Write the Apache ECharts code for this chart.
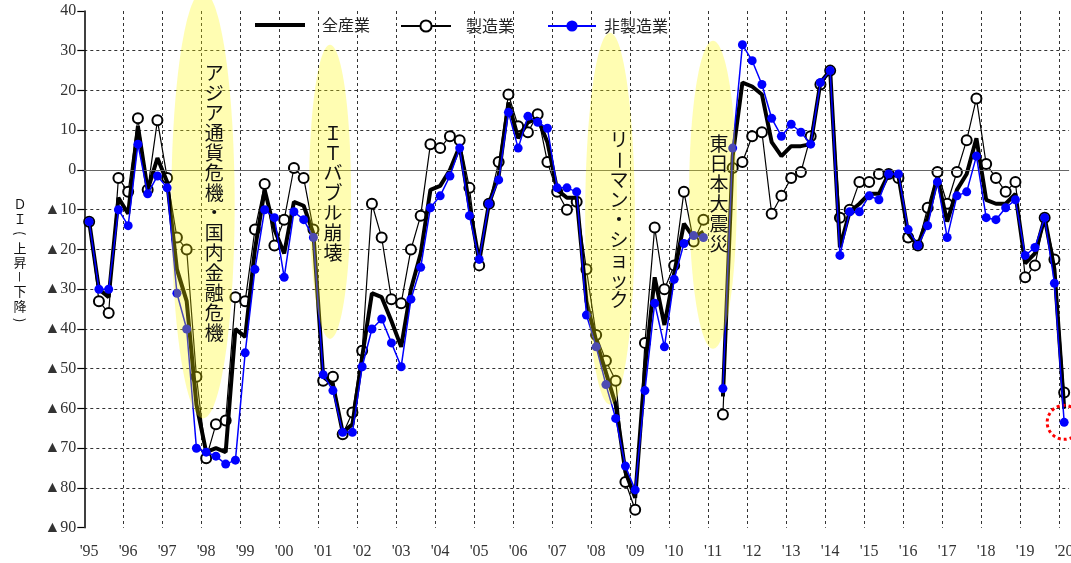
<!DOCTYPE html>
<html>
<head>
<meta charset="utf-8">
<script src="https://cdn.jsdelivr.net/npm/echarts@6/dist/echarts.min.js"></script>
<style>
html, body { margin: 0; padding: 0; background: #fff; }
#chart { width: 1071px; height: 563px; }
</style>
</head>
<body>
<div id="chart"></div>
<script>
// 年ラベル（四半期ごとにカテゴリを作る）
var yearLabels = ["'95", "'96", "'97", "'98", "'99", "'00", "'01", "'02", "'03", "'04",
  "'05", "'06", "'07", "'08", "'09", "'10", "'11", "'12", "'13", "'14",
  "'15", "'16", "'17", "'18", "'19", "'20"];
var quarterCount = 101;

// 全産業
var zenSangyo = [
  -13, -30, -32, -7,   -11, 11, -5, 3,    -3, -25, -33, -59,   -71, -70, -71, -40,
  -42, -20, -5, -15,   -21, -8, -9, -16,   -52, -54, -66, -64,  -47, -31, -32, -38,
  -44.5, -30, -21, -5, -4, 0, 6, -9,      -23, -8.5, -1.5, 17,  8, 12, 13, 7,
  -5, -7, -7, -33,     -43, -51, -59, -76,  -82.5, -50, -27, -39, -26, -13.5, -17, -15.5,
  null, -57, 3.5, 22,  21, 19, 7, 3.5,     6, 6, 6.5, 22,       25, -19.5, -10.5, -8.5,
  -6, -6, -1, -1.5,    -16, -19, -12, -2,   -13, -5, -1, 8,      -7.5, -8.5, -8.5, -6,
  -23.5, -21, -12, -25, -60
];
// 製造業
var seizo = [
  -13, -33, -36, -2,   -5.5, 13, -5, 12.5,  -2, -17, -20, -52,   -72.5, -64, -63, -32,
  -33, -15, -3.5, -19, -12.5, 0.5, -2, -15, -53, -52, -66.5, -61, -45.5, -8.5, -17, -32.5,
  -33.5, -20, -11.5, 6.5, 5.5, 8.5, 7.5, -4.5, -24, -8.5, 2, 19,  11, 9.5, 14, 2,
  -5.5, -10, -8, -25,  -41.5, -48, -53, -78.5, -85.5, -43.5, -14.5, -30, -24, -5.5, -18, -12.5,
  null, -61.5, 0.5, 2, 8.5, 9.5, -11, -6.5,  -2, -0.5, 8.5, 21.5,  25, -12, -10, -3,
  -3, -1, -1, -2,      -17, -19, -9.5, -0.5, -8.5, -0.5, 7.5, 18,  1.5, -2, -5.5, -3,
  -27, -24, -12, -22.5, -56
];
// 非製造業
var hiSeizo = [
  -13, -30, -30, -10,  -14, 6.5, -6, -1.5,  -4.5, -31, -40, -70,  -71, -72, -74, -73,
  -46, -25, -10, -12,  -27, -10.5, -12.5, -17, -51.5, -55.5, -66, -66, -49.5, -40, -37.5, -43.5,
  -49.5, -32.5, -24.5, -9.5, -6.5, -1.5, 5.5, -11.5, -22.5, -8.5, -2.5, 14.5, 5.5, 13.5, 12, 10.5,
  -4.5, -4.5, -5.5, -36.5, -44.5, -54, -62.5, -74.5, -80.5, -55.5, -33.5, -44.5, -27.5, -18.5, -16.5, -17,
  null, -55, 5.5, 31.5, 27.5, 21.5, 13, 8.5, 11.5, 9.5, 6.5, 22,  25, -21.5, -10.5, -10.5,
  -6.5, -7.5, -1, -1,  -15, -19, -14, -3,   -17, -6.5, -5.5, 3.5, -12, -12.5, -9.5, -7.5,
  -21.5, -19.5, -12, -28.5, -63.5
];

// 注記（楕円）: 中心の四半期位置、半幅（四半期）、上端・下端（DI値）
var eventNames = ['アジア通貨危機・国内金融危機', 'ＩＴバブル崩壊', 'リーマン・ショック', '東日本大震災'];
var eventCenter = [11.67, 24.7, 53.42, 63.98];
var eventHalfWidth = [3.25, 2.15, 2.55, 2.45];
var eventTop = [45, 31.5, 34.5, 32.5];
var eventBottom = [-62.5, -42.5, -59, -45];
var eventTextIdx = [12.82, 25.0, 54.35, 64.6];
var eventTextTop = [27, 12, 10, 9];

var quarters = [];
for (var n = 0; n < quarterCount; n++) {
  quarters.push(yearLabels[Math.floor(n / 4)] + '-' + (n % 4 + 1));
}

var serif = '"Liberation Serif", "DejaVu Serif", serif';
var gothic = '"Noto Sans CJK JP", sans-serif';
var dash = { color: '#333', width: 1, type: [3, 3] };
var legendText = { fontSize: 16, fontFamily: gothic, color: '#222' };

var myChart = echarts.init(document.getElementById('chart'));

var option = {
  animation: false,
  backgroundColor: '#fff',
  grid: { left: 84.3, top: 11, right: 1.95, bottom: 35.3, outerBoundsMode: 'none', containLabel: false },
  legend: [
    { data: [{ name: '全産業', icon: 'rect' }], left: 255, top: 17, padding: 0,
      itemWidth: 50, itemHeight: 4, itemStyle: { color: '#000' },
      textStyle: Object.assign({ padding: [0, 0, 0, 12] }, legendText) },
    { data: ['製造業'], left: 400, top: 18, padding: 0, itemWidth: 50, itemHeight: 14,
      textStyle: Object.assign({ padding: [0, 0, 0, 10] }, legendText) },
    { data: ['非製造業'], left: 547, top: 18, padding: 0, itemWidth: 48, itemHeight: 14,
      textStyle: Object.assign({ padding: [0, 0, 0, 3] }, legendText) }
  ],
  xAxis: {
    type: 'category',
    data: quarters,
    boundaryGap: true,
    axisLine: { show: false },
    axisTick: { show: false, interval: 3 },
    splitLine: { show: true, interval: 3, lineStyle: dash, showMinLine: false, showMaxLine: false },
    axisLabel: {
      interval: 3, margin: 16, fontSize: 16, fontFamily: serif, color: '#333',
      formatter: function (v) { return v.split('-')[0]; }
    }
  },
  yAxis: {
    type: 'value',
    min: -90, max: 40, interval: 10,
    axisLine: { show: true, lineStyle: { color: '#000', width: 1.5 } },
    axisTick: { show: true, length: 7, lineStyle: { color: '#000', width: 1.2 } },
    splitLine: { show: true, lineStyle: dash, showMinLine: false, showMaxLine: false },
    axisLabel: {
      margin: 8, fontSize: 16, fontFamily: serif, color: '#333',
      formatter: function (v) { return v < 0 ? '▲' + (-v) : String(v); }
    }
  },
  series: [
    {
      name: '製造業', type: 'line', data: seizo, z: 3,
      symbol: 'emptyCircle', symbolSize: 10, showAllSymbol: true,
      lineStyle: { color: '#000', width: 1.2 },
      itemStyle: { color: '#000', borderWidth: 1 },
      markLine: {
        silent: true, symbol: 'none', label: { show: false },
        lineStyle: { color: '#666', type: 'solid', width: 1 },
        data: [{ yAxis: 0 }]
      }
    },
    {
      name: '全産業', type: 'line', data: zenSangyo, z: 4,
      symbol: 'none', showSymbol: false,
      lineStyle: { color: '#000', width: 4 },
      itemStyle: { color: '#000' }
    },
    {
      name: '非製造業', type: 'line', data: hiSeizo, z: 5,
      symbol: 'circle', symbolSize: 9, showAllSymbol: true,
      lineStyle: { color: '#0000ff', width: 1.5 },
      itemStyle: { color: '#0000ff' },
      markPoint: {
        silent: true,
        symbol: 'circle', symbolSize: 34,
        label: { show: false },
        itemStyle: { color: 'rgba(0,0,0,0)', borderColor: '#ff0000', borderWidth: 3, borderType: [3, 3] },
        data: [{ coord: [quarters[quarterCount - 1], hiSeizo[quarterCount - 1]] }]
      }
    }
  ]
};
myChart.setOption(option);

// 縦書きテキスト（一文字ずつ配置、長音・括弧は回転）
function verticalText(str, cx, top, size, pitch, font) {
  var out = [];
  for (var k = 0; k < str.length; k++) {
    var ch = str.charAt(k);
    var rot = 'ー－()（）'.indexOf(ch) >= 0;
    out.push({
      type: 'text', x: cx, y: top + pitch * (k + 0.5), z: 100, silent: true,
      rotation: rot ? -Math.PI / 2 : 0,
      style: { text: ch, font: size + 'px ' + font, fill: '#111', align: 'center', verticalAlign: 'middle' }
    });
  }
  return out;
}

function toPx(idx, val) {
  var a = myChart.convertToPixel({ gridIndex: 0 }, [0, val]);
  var b = myChart.convertToPixel({ gridIndex: 0 }, [1, val]);
  return [a[0] + idx * (b[0] - a[0]), a[1]];
}

var elements = [];
for (var e = 0; e < eventNames.length; e++) {
  var c = toPx(eventCenter[e], eventTop[e]);
  var r = toPx(eventCenter[e] + eventHalfWidth[e], eventBottom[e]);
  elements.push({
    type: 'ellipse', z: 50, silent: true,
    shape: { cx: c[0], cy: (c[1] + r[1]) / 2, rx: r[0] - c[0], ry: (r[1] - c[1]) / 2 },
    style: { fill: 'rgba(255,250,0,0.3)' }
  });
  var t = toPx(eventTextIdx[e], eventTextTop[e]);
  elements = elements.concat(verticalText(eventNames[e], t[0], t[1], 19, 20, gothic));
}
elements = elements.concat(verticalText('ＤＩ(上昇－下降)', 20, 197, 13, 14.5, gothic));

myChart.setOption({ graphic: { elements: elements } });
</script>
</body>
</html>
